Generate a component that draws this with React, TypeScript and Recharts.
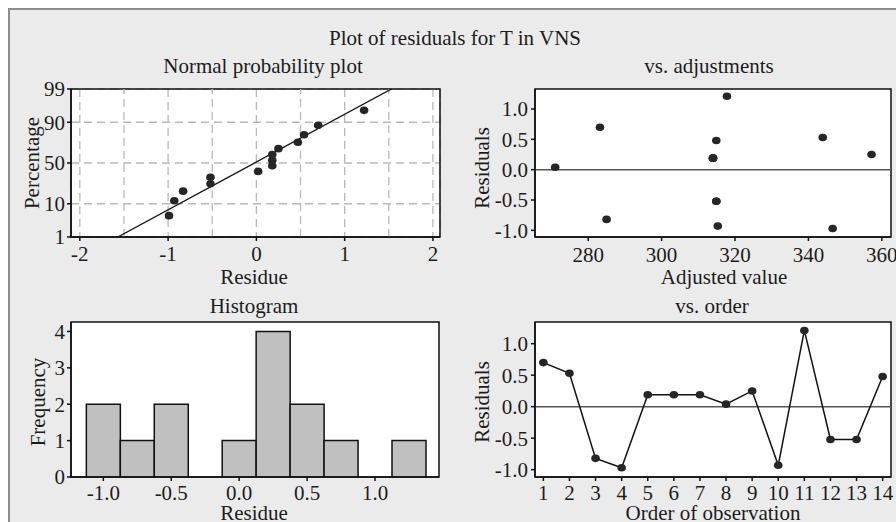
import React from "react";
import {
  ScatterChart,
  Scatter,
  BarChart,
  Bar,
  XAxis,
  YAxis,
  CartesianGrid,
  ReferenceLine,
  ReferenceArea,
} from "recharts";

// residuals in observation order
const ORDER = [1, 2, 3, 4, 5, 6, 7, 8, 9, 10, 11, 12, 13, 14];
const RESIDUALS = [0.7, 0.53, -0.82, -0.97, 0.19, 0.19, 0.19, 0.04, 0.25, -0.93, 1.21, -0.52, -0.52, 0.48];
const FITTED = [283.2, 343.9, 285.0, 346.6, 314.0, 314.0, 314.0, 271.0, 357.2, 315.3, 317.8, 314.9, 314.9, 314.9];

// normal probability plot (sorted residuals vs. percentage)
const NPP_RESIDUE = [-0.99, -0.93, -0.83, -0.52, -0.52, 0.02, 0.18, 0.18, 0.18, 0.25, 0.47, 0.54, 0.7, 1.22];
const NPP_PCT = [4.9, 11.8, 18.8, 25.7, 32.6, 39.6, 46.5, 53.5, 60.4, 67.4, 74.3, 81.3, 88.2, 95.1];
const FIT_RESIDUE = [-1.57, 1.53];
const FIT_PCT = [1, 99];
const PCT_TICKS = [1, 10, 50, 90, 99];
const NPP_X_TICKS = [-2, -1, 0, 1, 2];
const NPP_HALF_GRID = [-1.5, -0.5, 0.5, 1.5];

// histogram
const BIN_CENTER = [-1.0, -0.75, -0.5, -0.25, 0, 0.25, 0.5, 0.75, 1.0, 1.25];
const BIN_COUNT = [2, 1, 2, 0, 1, 4, 2, 1, 0, 1];
const HIST_X_TICKS = [-1, -0.5, 0, 0.5, 1];
const HIST_Y_TICKS = [0, 1, 2, 3, 4];

const RES_TICKS = [-1, -0.5, 0, 0.5, 1];
const FIT_TICKS = [280, 300, 320, 340, 360];

const FONT = "'Liberation Serif', 'Times New Roman', serif";
const INK = "#1c1c1c";
const TICK = { fontFamily: FONT, fontSize: 21, fill: INK };
const LINE = { stroke: "#111", strokeWidth: 1.5 };

// inverse normal cdf (Acklam) for the probability scale
function probit(p: number): number {
  const a = [-39.69683028665376, 220.9460984245205, -275.9285104469687, 138.357751867269, -30.66479806614716, 2.506628277459239];
  const b = [-54.47609879822406, 161.5858368580409, -155.6989798598866, 66.80131188771972, -13.28068155288572];
  const c = [-0.007784894002430293, -0.3223964580411365, -2.400758277161838, -2.549732539343734, 4.374664141464968, 2.938163982698783];
  const d = [0.007784695709041462, 0.3224671290700398, 2.445134137142996, 3.754408661907416];
  const lo = 0.02425;
  if (p < lo) {
    const q = Math.sqrt(-2 * Math.log(p));
    return (((((c[0] * q + c[1]) * q + c[2]) * q + c[3]) * q + c[4]) * q + c[5]) / ((((d[0] * q + d[1]) * q + d[2]) * q + d[3]) * q + 1);
  }
  if (p > 1 - lo) {
    const q = Math.sqrt(-2 * Math.log(1 - p));
    return -(((((c[0] * q + c[1]) * q + c[2]) * q + c[3]) * q + c[4]) * q + c[5]) / ((((d[0] * q + d[1]) * q + d[2]) * q + d[3]) * q + 1);
  }
  const q = p - 0.5;
  const r = q * q;
  return ((((((a[0] * r + a[1]) * r + a[2]) * r + a[3]) * r + a[4]) * r + a[5]) * q) / (((((b[0] * r + b[1]) * r + b[2]) * r + b[3]) * r + b[4]) * r + 1);
}

const Z_TICKS = PCT_TICKS.map((p) => probit(p / 100));
const Z_LO = Z_TICKS[0];
const Z_HI = Z_TICKS[Z_TICKS.length - 1];

const nppData = NPP_RESIDUE.map((x, i) => ({ x, z: probit(NPP_PCT[i] / 100) }));
const fitData = FIT_RESIDUE.map((x, i) => ({ x, z: probit(FIT_PCT[i] / 100) }));
const adjData = FITTED.map((x, i) => ({ x, r: RESIDUALS[i] }));
const orderData = ORDER.map((x, i) => ({ x, r: RESIDUALS[i] }));
const histData = BIN_CENTER.map((c, i) => ({ c, n: BIN_COUNT[i] }));

const Dot = (p: any) => <ellipse cx={p.cx} cy={p.cy} rx={4.3} ry={3.8} fill="#262626" />;
const NoDot = () => <g />;

const MARGIN = { top: 5, right: 5, bottom: 0, left: 0 };
const fmt1 = (v: number) => v.toFixed(1);

function NormalPlot() {
  return (
    <ScatterChart width={434} height={198} margin={{ ...MARGIN, top: 15 }}>
      <CartesianGrid fill="#fff" stroke="#b8b8b8" strokeWidth={1.3} strokeDasharray="8 5" />
      {NPP_HALF_GRID.map((g) => (
        <ReferenceLine key={g} x={g} stroke="#b8b8b8" strokeWidth={1.3} strokeDasharray="8 5" />
      ))}
      <XAxis type="number" dataKey="x" domain={[-2.1, 2.08]} allowDataOverflow ticks={NPP_X_TICKS} interval={0}
        height={35} tick={TICK} tickSize={4} tickMargin={5} axisLine={LINE} tickLine={LINE} />
      <YAxis type="number" dataKey="z" domain={[Z_LO, Z_HI]} allowDataOverflow ticks={Z_TICKS} interval={0}
        width={60} tick={TICK} tickSize={4} tickMargin={2} axisLine={LINE} tickLine={LINE}
        tickFormatter={(v: number) => String(PCT_TICKS[Z_TICKS.findIndex((t) => Math.abs(t - v) < 1e-6)] ?? "")} />
      <Scatter data={fitData} line={{ stroke: "#111", strokeWidth: 1.3 }} shape={NoDot} isAnimationActive={false} />
      <Scatter data={nppData} shape={Dot} isAnimationActive={false} />
      <ReferenceArea x1={-2.1} x2={2.08} y1={Z_LO} y2={Z_HI} fill="none" stroke="#111" strokeWidth={1.5} />
    </ScatterChart>
  );
}

function AdjustPlot() {
  return (
    <ScatterChart width={421} height={188} margin={MARGIN}>
      <CartesianGrid fill="#fff" horizontal={false} vertical={false} />
      <XAxis type="number" dataKey="x" domain={[265.5, 362.5]} allowDataOverflow ticks={FIT_TICKS} interval={0}
        height={35} tick={TICK} tickSize={4} tickMargin={6} axisLine={LINE} tickLine={LINE} />
      <YAxis type="number" dataKey="r" domain={[-1.11, 1.33]} allowDataOverflow ticks={RES_TICKS} interval={0}
        width={60} tick={TICK} tickSize={4} tickMargin={3} axisLine={LINE} tickLine={LINE} tickFormatter={fmt1} />
      <ReferenceLine y={0} stroke="#555" strokeWidth={1.5} />
      <Scatter data={adjData} shape={Dot} isAnimationActive={false} />
      <ReferenceArea x1={265.5} x2={362.5} y1={-1.11} y2={1.33} fill="none" stroke="#111" strokeWidth={1.5} />
    </ScatterChart>
  );
}

function Histogram() {
  return (
    <BarChart width={433} height={200} margin={MARGIN} data={histData} barCategoryGap={0} barGap={0}>
      <CartesianGrid fill="#fff" horizontal={false} vertical={false} />
      <XAxis type="number" dataKey="c" domain={[-1.238, 1.471]} allowDataOverflow ticks={HIST_X_TICKS} interval={0}
        height={40} tick={TICK} tickSize={4} tickMargin={4} axisLine={LINE} tickLine={LINE} tickFormatter={fmt1} />
      <YAxis type="number" domain={[0, 4.26]} allowDataOverflow ticks={HIST_Y_TICKS} interval={0}
        width={60} tick={TICK} tickSize={4} tickMargin={2} axisLine={LINE} tickLine={LINE} />
      <Bar dataKey="n" fill="#c0c0c0" stroke="#111" strokeWidth={1.5} isAnimationActive={false} />
      <ReferenceArea x1={-1.238} x2={1.471} y1={0} y2={4.26} fill="none" stroke="#111" strokeWidth={1.5} />
    </BarChart>
  );
}

function OrderPlot() {
  return (
    <ScatterChart width={421} height={200} margin={MARGIN}>
      <CartesianGrid fill="#fff" horizontal={false} vertical={false} />
      <XAxis type="number" dataKey="x" domain={[0.68, 14.32]} allowDataOverflow ticks={ORDER} interval={0}
        height={40} tick={TICK} tickSize={4} tickMargin={4} axisLine={LINE} tickLine={LINE} />
      <YAxis type="number" dataKey="r" domain={[-1.116, 1.344]} allowDataOverflow ticks={RES_TICKS} interval={0}
        width={60} tick={TICK} tickSize={4} tickMargin={3} axisLine={LINE} tickLine={LINE} tickFormatter={fmt1} />
      <ReferenceLine y={0} stroke="#555" strokeWidth={1.5} />
      <Scatter data={orderData} line={{ stroke: "#111", strokeWidth: 1.5 }} shape={Dot} isAnimationActive={false} />
      <ReferenceArea x1={0.68} x2={14.32} y1={-1.116} y2={1.344} fill="none" stroke="#111" strokeWidth={1.5} />
    </ScatterChart>
  );
}

const abs = (left: number, top: number): React.CSSProperties => ({ position: "absolute", left, top });

function VText({ x, y, children }: { x: number; y: number; children: string }) {
  return (
    <text x={x} y={y} dy="0.35em" textAnchor="middle" transform={`rotate(-90 ${x} ${y})`}>
      {children}
    </text>
  );
}

export default function App() {
  return (
    <div style={{ position: "absolute", left: 0, top: 0, width: 896, height: 522, overflow: "hidden", background: "#fff", fontFamily: FONT }}>
      <div style={{ position: "absolute", left: 8, top: 8, width: 900, height: 530, background: "#ebebeb", borderLeft: "2px solid #8c8c8c", borderTop: "2px solid #8c8c8c" }} />
      <div style={abs(11, 74)}><NormalPlot /></div>
      <div style={abs(475, 84)}><AdjustPlot /></div>
      <div style={abs(11, 317)}><Histogram /></div>
      <div style={abs(475, 317)}><OrderPlot /></div>
      <svg width={896} height={522} style={{ position: "absolute", left: 0, top: 0, pointerEvents: "none" }}
        fontFamily={FONT} fontSize={21} fill={INK}>
        <text x={455} y={45} textAnchor="middle">Plot of residuals for T in VNS</text>
        <text x={263} y={73} textAnchor="middle">Normal probability plot</text>
        <text x={709} y={73} textAnchor="middle">vs. adjustments</text>
        <text x={254} y={313} textAnchor="middle">Histogram</text>
        <text x={712} y={313} textAnchor="middle">vs. order</text>
        <text x={254} y={284} textAnchor="middle">Residue</text>
        <text x={724} y={284} textAnchor="middle">Adjusted value</text>
        <text x={254} y={520} textAnchor="middle">Residue</text>
        <text x={713} y={520} textAnchor="middle">Order of observation</text>
        <VText x={32} y={163}>Percentage</VText>
        <VText x={482} y={168}>Residuals</VText>
        <VText x={38} y={402}>Frequency</VText>
        <VText x={482} y={402}>Residuals</VText>
      </svg>
    </div>
  );
}
